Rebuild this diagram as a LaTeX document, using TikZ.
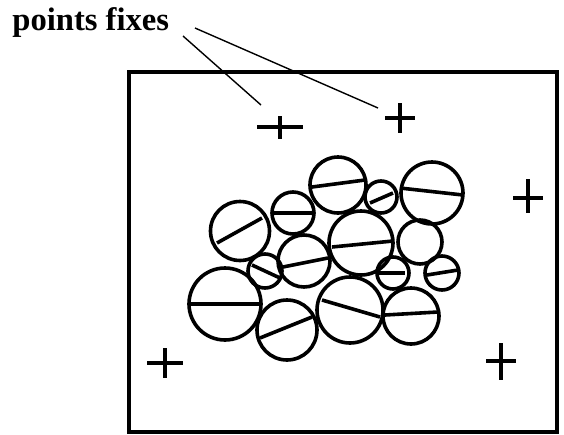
\documentclass[tikz,border=0pt]{standalone}
\usepackage{fontspec}
\setmainfont{Liberation Serif}
\usepackage{tikz}

\begin{document}
\begin{tikzpicture}[
  x=0.5pt, y=-0.5pt,
  cadre/.style={line width=1.8pt},
  croix/.style={line width=1.8pt},
  grain/.style={line width=1.8pt},
  fil/.style={line width=0.7pt},
  label/.style={font=\fontsize{16.3}{19}\selectfont\bfseries, inner sep=0pt, anchor=base west},
]
  \useasboundingbox (0,0) rectangle (564,435);
  % Cadre de l'image
  \draw[cadre] (129,72) rectangle (557,432);
  % Etiquette
  \node[label] (lbl) at (12,30) {points fixes};
  % Points fixes (croix)
  \foreach \nom/\px/\py/\hw/\vu/\vd in {p1/280/127/23/11/12, p2/400/118/15/15/15,
      p3/528/198/15/19/15, p4/165/363/18/15/15, p5/501/361/15/18/19}{
    \coordinate (\nom) at (\px,\py);
    \draw[croix] (\nom) ++(-\hw,0) -- ++(2*\hw,0);
    \draw[croix] (\nom) ++(0,-\vu) -- ++(0,\vu+\vd);
  }
  % Fils vers les croix
  \coordinate (l1) at (183,36);
  \coordinate (l2) at (195,28);
  \coordinate (e1) at (261,105);
  \coordinate (e2) at (378,108);
  \draw[fil] (l1) -- (e1);
  \draw[fil] (l2) -- (e2);
  % Grains
  \foreach \cx/\cy/\r in {338/185/28, 381/197/16, 432/193/31, 240/231/29.5,
      293/213/21, 361/243/32, 420/242/22, 265/271/17, 304/261/26, 393/273/16,
      442/273/17, 225/304/36, 287/330/30, 350/310/33, 411/316/28}{
    \draw[grain] (\cx,\cy) circle[radius=\r];
  }
  % Diametres
  \foreach \ax/\ay/\bx/\by in {312/187/365/180, 370/203/393/193, 400/188/463/195,
      217/243/262/218, 272/213/312/213, 332/247/393/241, 252/265/280/278,
      283/267/328/258, 378/273/405/273, 427/275/458/270, 190/304/260/304,
      260/338/312/317, 322/300/380/317, 385/315/438/312}{
    \draw[grain] (\ax,\ay) -- (\bx,\by);
  }
\end{tikzpicture}
\end{document}
